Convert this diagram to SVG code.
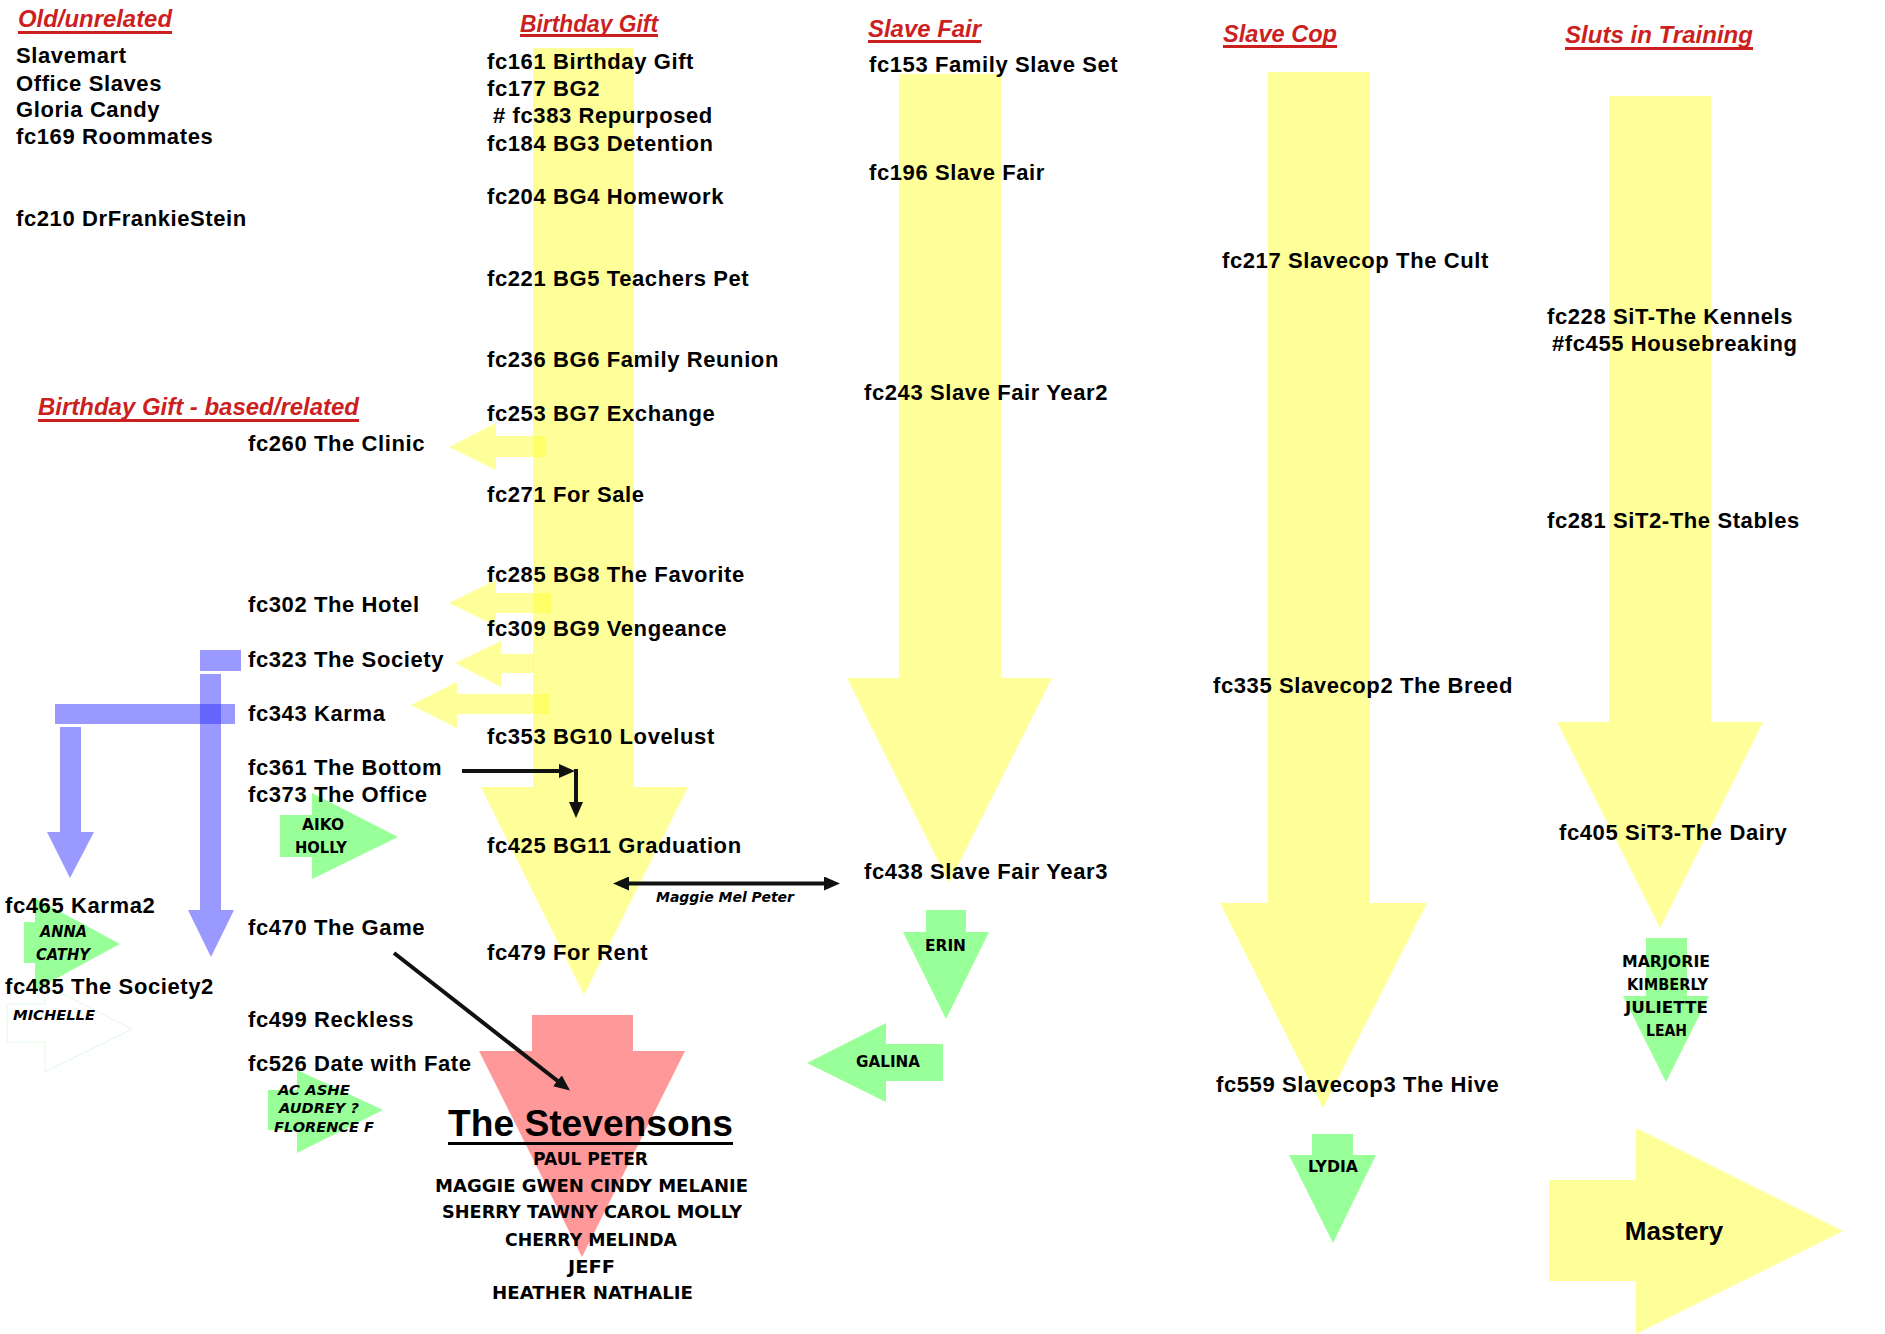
<svg xmlns="http://www.w3.org/2000/svg" width="1885" height="1334" viewBox="0 0 1885 1334">
<style>
.t{font-family:"Liberation Sans",Arial,sans-serif;font-weight:bold;font-size:22px;letter-spacing:0.6px;fill:#000}
.h{font-family:"Liberation Sans",Arial,sans-serif;font-weight:bold;font-style:italic;font-size:23px;fill:#cc1f1f}
.ul{fill:#cc1f1f}
.c{font-family:"DejaVu Sans",sans-serif;font-weight:bold;font-size:15px;fill:#000}
.ci{font-family:"DejaVu Sans",sans-serif;font-weight:bold;font-style:italic;font-size:14px;fill:#000}
.cs{font-family:"DejaVu Sans",sans-serif;font-weight:bold;font-size:18px;fill:#000}
.yel{fill:#ffff33;fill-opacity:0.5}
.blu{fill:#3333ff;fill-opacity:0.5}
.grn{fill:#99ff99}
.pnk{fill:#ff9999}
.conn{stroke:#111;stroke-width:4;fill:none}
</style>
<defs>
<marker id="ah" viewBox="0 0 16 14" refX="2" refY="7" markerWidth="16" markerHeight="14" markerUnits="userSpaceOnUse" orient="auto-start-reverse"><path d="M0,0 L16,7 L0,14 z" fill="#111"/></marker>
</defs>
<rect width="1885" height="1334" fill="#fff"/>

<g id="flow-arrows">
<polygon id="arrow-bg" class="yel" points="533,48 634,48 634,787 688,787 584,995 481,787 533,787"/>
<polygon id="arrow-sf" class="yel" points="899,74 1001,74 1001,678 1052,678 949,883 847,678 899,678"/>
<polygon id="arrow-sc" class="yel" points="1268,72 1370,72 1370,903 1427,903 1323,1108 1220,903 1268,903"/>
<polygon id="arrow-sit" class="yel" points="1609,96 1711,96 1711,722 1763,722 1660,928 1557,722 1609,722"/>
<polygon id="arrow-mastery" class="yel" points="1549,1180 1636,1180 1636,1128 1843,1231 1636,1334 1636,1281 1549,1281"/>
<polygon id="arrow-clinic" class="yel" points="545,436 496,436 496,423 449,447 496,470 496,457 545,457"/>
<polygon id="arrow-hotel" class="yel" points="551,593 496,593 496,580 449,603 496,626 496,613 551,613"/>
<polygon id="arrow-society" class="yel" points="534,654 501,654 501,641 455,663 501,687 501,673 534,673"/>
<polygon id="arrow-karma" class="yel" points="549,694 457,694 457,682 411,705 457,728 457,714 549,714"/>
<polygon id="arrow-stevensons" class="pnk" points="532,1015 633,1015 633,1051 685,1051 582,1257 479,1051 532,1051"/>
</g>

<g id="blue-links">
<rect class="blu" x="200" y="650" width="41" height="21"/>
<polygon class="blu" points="200,674 221,674 221,910 234,910 211,957 188,910 200,910"/>
<rect class="blu" x="55" y="704" width="180" height="20"/>
<polygon class="blu" points="60,727 81,727 81,832 94,832 70,878 47,832 60,832"/>
</g>

<g id="green-arrows">
<polygon id="g-aiko" class="grn" points="280,815 312,815 312,793 398,837 312,879 312,857 280,857"/>
<polygon id="g-anna" class="grn" points="24,922 35,922 35,898 120,944 35,990 35,963 24,963"/>
<polygon id="g-michelle" fill="#ffffff" stroke="#e4f8e4" stroke-width="1" points="7,1004 45,1004 45,985 132,1029 45,1072 45,1042 7,1042"/>
<polygon id="g-acashe" class="grn" points="268,1090 297,1090 297,1070 383,1110 297,1153 297,1130 268,1130"/>
<polygon id="g-erin" class="grn" points="926,910 966,910 966,932 989,932 946,1019 903,932 926,932"/>
<polygon id="g-galina" class="grn" points="943,1044 886,1044 886,1023 807,1063 886,1102 886,1081 943,1081"/>
<polygon id="g-lydia" class="grn" points="1312,1134 1353,1134 1353,1155 1376,1155 1333,1243 1289,1155 1312,1155"/>
<polygon id="g-marjorie" class="grn" points="1646,938 1687,938 1687,996 1709,996 1666,1082 1623,996 1646,996"/>
</g>

<g id="connectors">
<line class="conn" x1="462" y1="771" x2="561" y2="771" marker-end="url(#ah)"/>
<line class="conn" x1="576" y1="769" x2="576" y2="804" marker-end="url(#ah)"/>
<line class="conn" x1="627" y1="883.5" x2="826" y2="883.5" marker-start="url(#ah)" marker-end="url(#ah)"/>
<line class="conn" x1="394" y1="953" x2="559" y2="1082" marker-end="url(#ah)"/>
</g>

<g id="headers">
<g id="h-old"><text class="h" x="18" y="27" textLength="154" lengthAdjust="spacingAndGlyphs">Old/unrelated</text><rect class="ul" x="18" y="31" width="154" height="3"/></g>
<g id="h-bg"><text class="h" x="520" y="32" textLength="138" lengthAdjust="spacingAndGlyphs">Birthday Gift</text><rect class="ul" x="520" y="34" width="138" height="3"/></g>
<g id="h-sf"><text class="h" x="868" y="37" textLength="113" lengthAdjust="spacingAndGlyphs">Slave Fair</text><rect class="ul" x="868" y="40" width="113" height="3"/></g>
<g id="h-sc"><text class="h" x="1223" y="42" textLength="114" lengthAdjust="spacingAndGlyphs">Slave Cop</text><rect class="ul" x="1223" y="45" width="114" height="3"/></g>
<g id="h-sit"><text class="h" x="1565" y="43" textLength="188" lengthAdjust="spacingAndGlyphs">Sluts in Training</text><rect class="ul" x="1565" y="47" width="188" height="3"/></g>
<g id="h-bgrel"><text class="h" x="38" y="415" textLength="321" lengthAdjust="spacingAndGlyphs">Birthday Gift - based/related</text><rect class="ul" x="38" y="419" width="321" height="3"/></g>
</g>

<g id="old-list">
<g id="n-slavemart"><text class="t" x="16" y="63">Slavemart</text></g>
<g id="n-officeslaves"><text class="t" x="16" y="91">Office Slaves</text></g>
<g id="n-gloria"><text class="t" x="16" y="117">Gloria Candy</text></g>
<g id="n-fc169"><text class="t" x="16" y="144">fc169 Roommates</text></g>
<g id="n-fc210"><text class="t" x="16" y="226">fc210 DrFrankieStein</text></g>
</g>

<g id="bg-column">
<g id="n-fc161"><text class="t" x="487" y="69">fc161 Birthday Gift</text></g>
<g id="n-fc177"><text class="t" x="487" y="96">fc177 BG2</text></g>
<g id="n-fc383"><text class="t" x="493" y="123"># fc383 Repurposed</text></g>
<g id="n-fc184"><text class="t" x="487" y="151">fc184 BG3 Detention</text></g>
<g id="n-fc204"><text class="t" x="487" y="204">fc204 BG4 Homework</text></g>
<g id="n-fc221"><text class="t" x="487" y="286">fc221 BG5 Teachers Pet</text></g>
<g id="n-fc236"><text class="t" x="487" y="367">fc236 BG6 Family Reunion</text></g>
<g id="n-fc253"><text class="t" x="487" y="421">fc253 BG7 Exchange</text></g>
<g id="n-fc271"><text class="t" x="487" y="502">fc271 For Sale</text></g>
<g id="n-fc285"><text class="t" x="487" y="582">fc285 BG8 The Favorite</text></g>
<g id="n-fc309"><text class="t" x="487" y="636">fc309 BG9 Vengeance</text></g>
<g id="n-fc353"><text class="t" x="487" y="744">fc353 BG10 Lovelust</text></g>
<g id="n-fc425"><text class="t" x="487" y="853">fc425 BG11 Graduation</text></g>
<g id="n-fc479"><text class="t" x="487" y="960">fc479 For Rent</text></g>
</g>

<g id="related-column">
<g id="n-fc260"><text class="t" x="248" y="451">fc260 The Clinic</text></g>
<g id="n-fc302"><text class="t" x="248" y="612">fc302 The Hotel</text></g>
<g id="n-fc323"><text class="t" x="248" y="667">fc323 The Society</text></g>
<g id="n-fc343"><text class="t" x="248" y="721">fc343 Karma</text></g>
<g id="n-fc361"><text class="t" x="248" y="775">fc361 The Bottom</text></g>
<g id="n-fc373"><text class="t" x="248" y="802">fc373 The Office</text></g>
<g id="n-fc465"><text class="t" x="5" y="913">fc465 Karma2</text></g>
<g id="n-fc470"><text class="t" x="248" y="935">fc470 The Game</text></g>
<g id="n-fc485"><text class="t" x="5" y="994">fc485 The Society2</text></g>
<g id="n-fc499"><text class="t" x="248" y="1027">fc499 Reckless</text></g>
<g id="n-fc526"><text class="t" x="248" y="1071">fc526 Date with Fate</text></g>
</g>

<g id="sf-column">
<g id="n-fc153"><text class="t" x="869" y="72">fc153 Family Slave Set</text></g>
<g id="n-fc196"><text class="t" x="869" y="180">fc196 Slave Fair</text></g>
<g id="n-fc243"><text class="t" x="864" y="400">fc243 Slave Fair Year2</text></g>
<g id="n-fc438"><text class="t" x="864" y="879">fc438 Slave Fair Year3</text></g>
</g>

<g id="sc-column">
<g id="n-fc217"><text class="t" x="1222" y="268">fc217 Slavecop The Cult</text></g>
<g id="n-fc335"><text class="t" x="1213" y="693">fc335 Slavecop2 The Breed</text></g>
<g id="n-fc559"><text class="t" x="1216" y="1092">fc559 Slavecop3 The Hive</text></g>
</g>

<g id="sit-column">
<g id="n-fc228"><text class="t" x="1547" y="324">fc228 SiT-The Kennels</text><text class="t" x="1552" y="351">#fc455 Housebreaking</text></g>
<g id="n-fc281"><text class="t" x="1547" y="528">fc281 SiT2-The Stables</text></g>
<g id="n-fc405"><text class="t" x="1559" y="840">fc405 SiT3-The Dairy</text></g>
<g id="n-mastery"><text class="t" x="1674" y="1240" text-anchor="middle" style="font-size:26px;letter-spacing:0">Mastery</text></g>
</g>

<g id="names">
<g id="l-aiko"><text class="c" x="302" y="830" textLength="42" lengthAdjust="spacingAndGlyphs">AIKO</text><text class="c" x="295" y="853" textLength="52" lengthAdjust="spacingAndGlyphs">HOLLY</text></g>
<g id="l-anna"><text class="ci" x="40" y="937" textLength="47" lengthAdjust="spacingAndGlyphs" style="font-size:15px">ANNA</text><text class="ci" x="36" y="960" textLength="54" lengthAdjust="spacingAndGlyphs" style="font-size:15px">CATHY</text></g>
<g id="l-michelle"><text class="ci" x="13" y="1020" textLength="82" lengthAdjust="spacingAndGlyphs">MICHELLE</text></g>
<g id="l-acashe"><text class="ci" x="278" y="1095" textLength="72" lengthAdjust="spacingAndGlyphs">AC ASHE</text><text class="ci" x="279" y="1113" textLength="80" lengthAdjust="spacingAndGlyphs">AUDREY ?</text><text class="ci" x="274" y="1132" textLength="100" lengthAdjust="spacingAndGlyphs">FLORENCE F</text></g>
<g id="l-erin"><text class="c" x="925" y="951" textLength="41" lengthAdjust="spacingAndGlyphs">ERIN</text></g>
<g id="l-galina"><text class="c" x="856" y="1067" textLength="64" lengthAdjust="spacingAndGlyphs">GALINA</text></g>
<g id="l-lydia"><text class="c" x="1308" y="1172" textLength="50" lengthAdjust="spacingAndGlyphs">LYDIA</text></g>
<g id="l-marjorie"><text class="c" x="1622" y="967" textLength="88" lengthAdjust="spacingAndGlyphs">MARJORIE</text><text class="c" x="1627" y="990" textLength="81" lengthAdjust="spacingAndGlyphs">KIMBERLY</text><text class="c" x="1625" y="1013" textLength="83" lengthAdjust="spacingAndGlyphs">JULIETTE</text><text class="c" x="1646" y="1036" textLength="41" lengthAdjust="spacingAndGlyphs">LEAH</text></g>
<g id="l-maggie"><text class="ci" x="656" y="902" textLength="138" lengthAdjust="spacingAndGlyphs">Maggie Mel Peter</text></g>
</g>

<g id="n-stevensons">
<text x="448" y="1136" textLength="285" lengthAdjust="spacingAndGlyphs" style="font-family:'Liberation Sans',Arial,sans-serif;font-weight:bold;font-size:36px;fill:#000">The Stevensons</text>
<rect x="448" y="1142" width="285" height="3" fill="#000"/>
<text class="cs" x="533" y="1165" textLength="115" lengthAdjust="spacingAndGlyphs">PAUL PETER</text>
<text class="cs" x="435" y="1192" textLength="313" lengthAdjust="spacingAndGlyphs">MAGGIE GWEN CINDY MELANIE</text>
<text class="cs" x="442" y="1218" textLength="300" lengthAdjust="spacingAndGlyphs">SHERRY TAWNY CAROL MOLLY</text>
<text class="cs" x="505" y="1246" textLength="172" lengthAdjust="spacingAndGlyphs">CHERRY MELINDA</text>
<text class="cs" x="568" y="1273" textLength="47" lengthAdjust="spacingAndGlyphs">JEFF</text>
<text class="cs" x="492" y="1299" textLength="201" lengthAdjust="spacingAndGlyphs">HEATHER NATHALIE</text>
</g>
</svg>
